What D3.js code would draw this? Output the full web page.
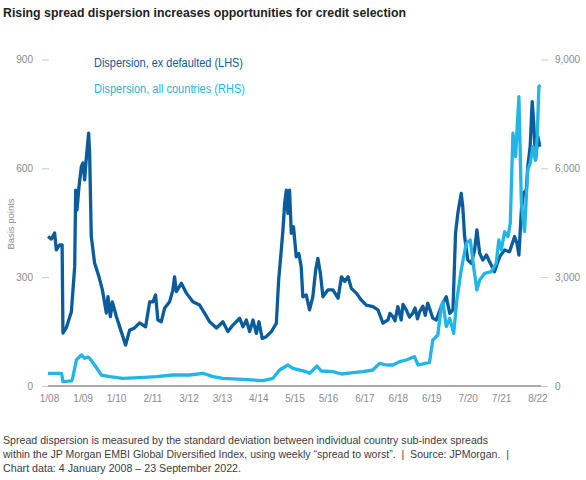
<!DOCTYPE html>
<html>
<head>
<meta charset="utf-8">
<script src="https://cdn.jsdelivr.net/npm/d3@7"></script>
<style>
  body { margin: 0; background: #fff; }
  svg text { font-family: "Liberation Sans", Arial, sans-serif; }
</style>
</head>
<body>
<div id="chart"></div>
<script>
// Data
const darkDates = ["2008-01-04","2008-02-10","2008-03-16","2008-04-04","2008-05-09","2008-06-06","2008-06-15","2008-07-21","2008-09-15","2008-10-21","2008-11-01","2008-11-15","2008-12-07","2009-01-02","2009-01-20","2009-02-07","2009-02-26","2009-03-22","2009-04-02","2009-04-20","2009-05-26","2009-07-13","2009-08-19","2009-10-01","2009-10-19","2009-11-14","2009-12-06","2010-01-19","2010-02-24","2010-04-29","2010-06-12","2010-08-05","2010-09-29","2010-12-03","2011-01-17","2011-02-22","2011-03-22","2011-04-16","2011-05-23","2011-06-28","2011-08-22","2011-09-27","2011-10-15","2011-11-03","2011-12-28","2012-02-21","2012-05-02","2012-07-14","2012-09-08","2012-11-01","2013-01-14","2013-03-25","2013-05-19","2013-07-13","2013-09-24","2013-10-30","2013-12-06","2014-01-11","2014-02-16","2014-03-25","2014-04-22","2014-05-28","2014-07-11","2014-09-05","2014-10-29","2014-11-23","2014-12-22","2015-01-09","2015-01-28","2015-02-15","2015-03-04","2015-03-22","2015-04-10","2015-05-04","2015-06-03","2015-07-01","2015-07-27","2015-08-14","2015-09-20","2015-10-26","2015-12-01","2016-01-01","2016-01-25","2016-02-21","2016-03-20","2016-05-13","2016-07-07","2016-09-01","2016-10-08","2016-11-13","2016-12-19","2017-01-24","2017-03-19","2017-05-12","2017-07-06","2017-09-16","2017-11-10","2018-01-04","2018-02-27","2018-03-20","2018-04-22","2018-05-15","2018-06-15","2018-07-21","2018-08-10","2018-09-15","2018-10-20","2018-11-23","2018-12-20","2019-01-15","2019-02-08","2019-03-15","2019-04-10","2019-05-07","2019-06-01","2019-07-01","2019-08-08","2019-10-01","2019-11-25","2020-01-02","2020-02-06","2020-03-05","2020-03-30","2020-05-06","2020-05-23","2020-06-12","2020-07-17","2020-08-24","2020-09-29","2020-10-24","2020-11-23","2020-12-28","2021-02-05","2021-03-10","2021-05-04","2021-06-28","2021-08-22","2021-10-15","2021-12-09","2022-01-04","2022-01-25","2022-02-21","2022-03-16","2022-04-15","2022-05-02","2022-05-28","2022-06-19","2022-07-06","2022-07-25","2022-08-20","2022-09-08","2022-09-23"];
const darkValues = [412,405,422,375,389,389,146,160,205,329,540,485,550,605,615,568,632,697,642,412,339,301,265,201,246,191,232,191,163,113,154,160,174,163,232,232,251,182,177,214,232,265,301,260,283,256,232,223,200,177,160,177,150,168,187,163,182,150,182,145,177,131,136,150,173,292,375,430,504,540,476,540,421,439,356,365,329,246,251,210,246,320,352,311,246,265,265,242,301,288,301,269,256,237,223,219,210,173,182,200,191,180,219,182,225,210,190,200,215,185,205,220,195,228,210,187,182,219,246,200,210,421,476,531,494,412,347,338,375,430,366,347,361,343,315,356,375,370,412,393,361,485,531,540,605,660,784,724,623,687,664,665];

const lightDates = ["2008-01-04","2008-05-09","2008-06-01","2008-06-15","2008-09-18","2008-10-02","2008-11-09","2008-12-03","2009-01-02","2009-02-07","2009-03-15","2009-04-02","2009-05-26","2009-08-08","2009-11-07","2010-03-30","2010-09-29","2011-03-29","2011-09-27","2012-03-27","2012-08-20","2012-12-07","2013-03-25","2013-10-30","2014-06-05","2014-09-22","2014-12-03","2015-03-04","2015-04-27","2015-09-20","2015-10-26","2016-01-15","2016-03-02","2016-07-07","2016-10-08","2017-02-11","2017-05-29","2017-09-16","2017-11-28","2018-02-09","2018-04-22","2018-07-03","2018-09-15","2018-12-14","2019-01-20","2019-05-26","2019-07-01","2019-08-25","2019-10-01","2019-10-19","2019-11-25","2020-01-02","2020-02-14","2020-03-19","2020-05-06","2020-06-30","2020-08-13","2020-09-18","2020-10-24","2020-11-23","2021-01-17","2021-03-29","2021-05-23","2021-06-20","2021-07-17","2021-08-22","2021-09-27","2021-10-23","2021-11-21","2021-12-20","2022-01-25","2022-02-21","2022-03-27","2022-05-02","2022-05-28","2022-06-26","2022-07-25","2022-08-13","2022-08-31","2022-09-16"];
const lightValues = [350,350,340,119,140,257,717,780,855,763,800,763,579,303,257,211,230,257,303,303,350,257,211,184,147,211,441,579,487,395,350,551,413,395,331,368,395,441,625,579,579,671,717,809,579,650,1268,1406,2187,2325,1636,1866,1452,2371,3198,3934,4025,3289,2647,2922,3107,3151,3383,4025,3750,4254,4116,4486,6967,6322,7976,5037,4254,5955,6140,6598,6231,6873,8252,8300];

const leftTicks = [0, 300, 600, 900];
const rightTicks = [0, 3000, 6000, 9000];
const xTickDates = ["2008-01-15","2009-01-15","2010-01-15","2011-02-15","2012-03-15","2013-03-15","2014-04-15","2015-05-15","2016-05-15","2017-06-15","2018-06-15","2019-06-15","2020-07-15","2021-07-15","2022-08-15"];
const xTickLabels = ["1/08","1/09","1/10","2/11","3/12","3/13","4/14","5/15","5/16","6/17","6/18","6/19","7/20","7/21","8/22"];

const seriesNames = ["Dispersion, ex defaulted (LHS)", "Dispersion, all countries (RHS)"];
const darkColor = "#0b5c9a";
const lightColor = "#22b5e8";

const width = 586;
const height = 480;
const parse = d3.timeParse("%Y-%m-%d");

const svg = d3.select("#chart")
    .append("svg")
    .attr("width", width)
    .attr("height", height);

const x = d3.scaleTime()
    .domain([parse("2008-01-04"), parse("2022-09-23")])
    .range([48, 541]);
const yLeft = d3.scaleLinear().domain([0, 900]).range([386, 59.5]);
const yRight = d3.scaleLinear().domain([0, 9000]).range([386, 59.5]);

// Title
svg.append("text")
    .attr("x", 3).attr("y", 17)
    .attr("font-size", 13.5)
    .attr("font-weight", "bold")
    .attr("fill", "#222")
    .attr("textLength", 403)
    .attr("lengthAdjust", "spacingAndGlyphs")
    .text("Rising spread dispersion increases opportunities for credit selection");

// Axes
const leftAxis = svg.append("g")
    .attr("transform", "translate(49,0)")
    .call(d3.axisLeft(yLeft).tickValues(leftTicks).tickSize(7).tickPadding(9));
const rightAxis = svg.append("g")
    .attr("transform", "translate(541,0)")
    .call(d3.axisRight(yRight).tickValues(rightTicks).tickSize(7).tickPadding(7).tickFormat(d3.format(",")));
[leftAxis, rightAxis].forEach(g => {
    g.select(".domain").remove();
    g.selectAll(".tick line").attr("stroke", "#c8c8c8");
    g.selectAll(".tick text").attr("fill", "#8a8a8a").attr("font-size", 10);
});

const xAxis = svg.append("g")
    .attr("transform", "translate(0,386)")
    .call(d3.axisBottom(x)
        .tickValues(xTickDates.map(parse))
        .tickSize(0)
        .tickPadding(9)
        .tickFormat((d, i) => xTickLabels[i]));
xAxis.select(".domain").remove();
xAxis.selectAll(".tick text").attr("fill", "#8a8a8a").attr("font-size", 10);

svg.append("text")
    .attr("transform", "translate(14,224) rotate(-90)")
    .attr("text-anchor", "middle")
    .attr("font-size", 9.5)
    .attr("fill", "#8a8a8a")
    .text("Basis points");

// Lines
const darkData = darkDates.map((d, i) => ({ date: parse(d), value: darkValues[i] }));
const lightData = lightDates.map((d, i) => ({ date: parse(d), value: lightValues[i] }));

svg.append("path")
    .datum(darkData)
    .attr("fill", "none")
    .attr("stroke", darkColor)
    .attr("stroke-width", 3.3)
    .attr("stroke-linejoin", "round")
    .attr("d", d3.line().x(d => x(d.date)).y(d => yLeft(d.value)));

svg.append("path")
    .datum(lightData)
    .attr("fill", "none")
    .attr("stroke", lightColor)
    .attr("stroke-width", 3.3)
    .attr("stroke-linejoin", "round")
    .attr("d", d3.line().x(d => x(d.date)).y(d => yRight(d.value)));

// Baseline
svg.append("line")
    .attr("x1", x.range()[0]).attr("x2", x.range()[1])
    .attr("y1", yLeft(0)).attr("y2", yLeft(0))
    .attr("stroke", "#8c8c8c")
    .attr("stroke-width", 1.5);

// Legend
svg.selectAll(".legend")
    .data(seriesNames)
    .enter()
    .append("text")
    .attr("class", "legend")
    .attr("x", 94)
    .attr("y", (d, i) => 67 + i * 26)
    .attr("font-size", 12.5)
    .attr("fill", (d, i) => i === 0 ? darkColor : lightColor)
    .attr("textLength", (d, i) => i === 0 ? 149 : 151)
    .attr("lengthAdjust", "spacingAndGlyphs")
    .text(d => d);

// Footnote
const noteLines = [
    "Spread dispersion is measured by the standard deviation between individual country sub-index spreads",
    "within the JP Morgan EMBI Global Diversified Index, using weekly \u201cspread to worst\u201d.\u00a0\u00a0|\u00a0\u00a0Source: JPMorgan.\u00a0\u00a0|",
    "Chart data: 4 January 2008 \u2013 23 September 2022."
];
const noteWidths = [485, 506, 238];
svg.append("g")
    .attr("fill", "#3c3c3c")
    .attr("font-size", 11)
    .selectAll("text")
    .data(noteLines)
    .enter()
    .append("text")
    .attr("x", 3)
    .attr("y", (d, i) => 444 + i * 14)
    .attr("textLength", (d, i) => noteWidths[i])
    .attr("lengthAdjust", "spacingAndGlyphs")
    .text(d => d);
</script>
</body>
</html>
